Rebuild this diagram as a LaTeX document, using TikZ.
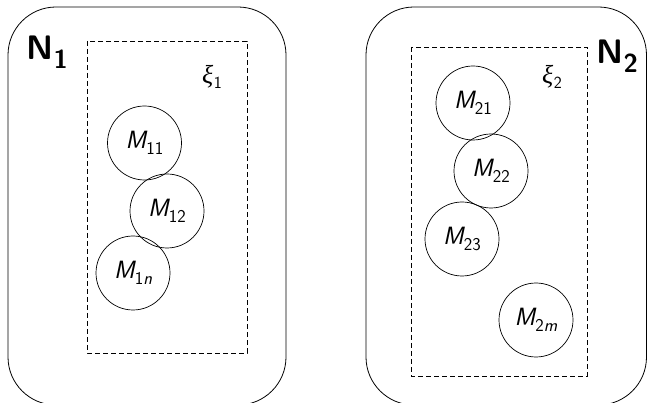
\documentclass[tikz,border=0pt]{standalone}
\usepackage{fontspec}
\newfontfamily\greekfont{Liberation Serif}
% sans label with a lowered index, e.g. \lbl{M}{11}
\newcommand{\lbl}[2]{{\sffamily\itshape #1}\kern0.3pt\raisebox{-6pt}{\fontsize{18}{18}\selectfont\sffamily #2}}
\newcommand{\netlbl}[2]{{\sffamily\bfseries #1}\kern0.5pt\raisebox{-9pt}{\fontsize{26}{26}\selectfont\sffamily\bfseries #2}}
\newcommand{\xilbl}[1]{{\greekfont\itshape ξ}\kern0.5pt\raisebox{-5pt}{\fontsize{17}{17}\selectfont\sffamily #1}}
\begin{document}
\begin{tikzpicture}[x=1pt,y=-1pt,
  net/.style={draw,line width=0.8pt,rounded corners=48pt},
  group/.style={draw,line width=0.7pt,dash pattern=on 5pt off 3pt},
  machine/.style={draw,circle,line width=0.7pt,minimum size=74pt,inner sep=0pt,
    font=\fontsize{25}{28}\selectfont},
  netlabel/.style={font=\fontsize{34}{36}\selectfont},
  grouplabel/.style={font=\fontsize{26}{28}\selectfont}]
\useasboundingbox (0,0) rectangle (648,403);

% network N1
\draw[net] (8,7) rectangle (286,405);
\draw[group] (87,41) rectangle (247,353);
\node[netlabel] (n1) at (47,52) {\netlbl{N}{1}};
\node[grouplabel] (xi1) at (212,77) {\xilbl{1}};
\node[machine] (m11) at (144.5,143) {\lbl{M}{11}};
\node[machine] (m12) at (167,211) {\lbl{M}{12}};
\node[machine] (m1n) at (133,273) {\lbl{M}{1\itshape n}};

% network N2
\draw[net] (366,7) rectangle (646.5,405);
\draw[group] (411,47) rectangle (587,376);
\node[netlabel] (n2) at (617,56) {\netlbl{N}{2}};
\node[grouplabel] (xi2) at (552,77) {\xilbl{2}};
\node[machine] (m21) at (473,103) {\lbl{M}{21}};
\node[machine] (m22) at (491,171) {\lbl{M}{22}};
\node[machine] (m23) at (462,239) {\lbl{M}{23}};
\node[machine] (m2m) at (536,320) {\lbl{M}{2\itshape m}};
\end{tikzpicture}
\end{document}
